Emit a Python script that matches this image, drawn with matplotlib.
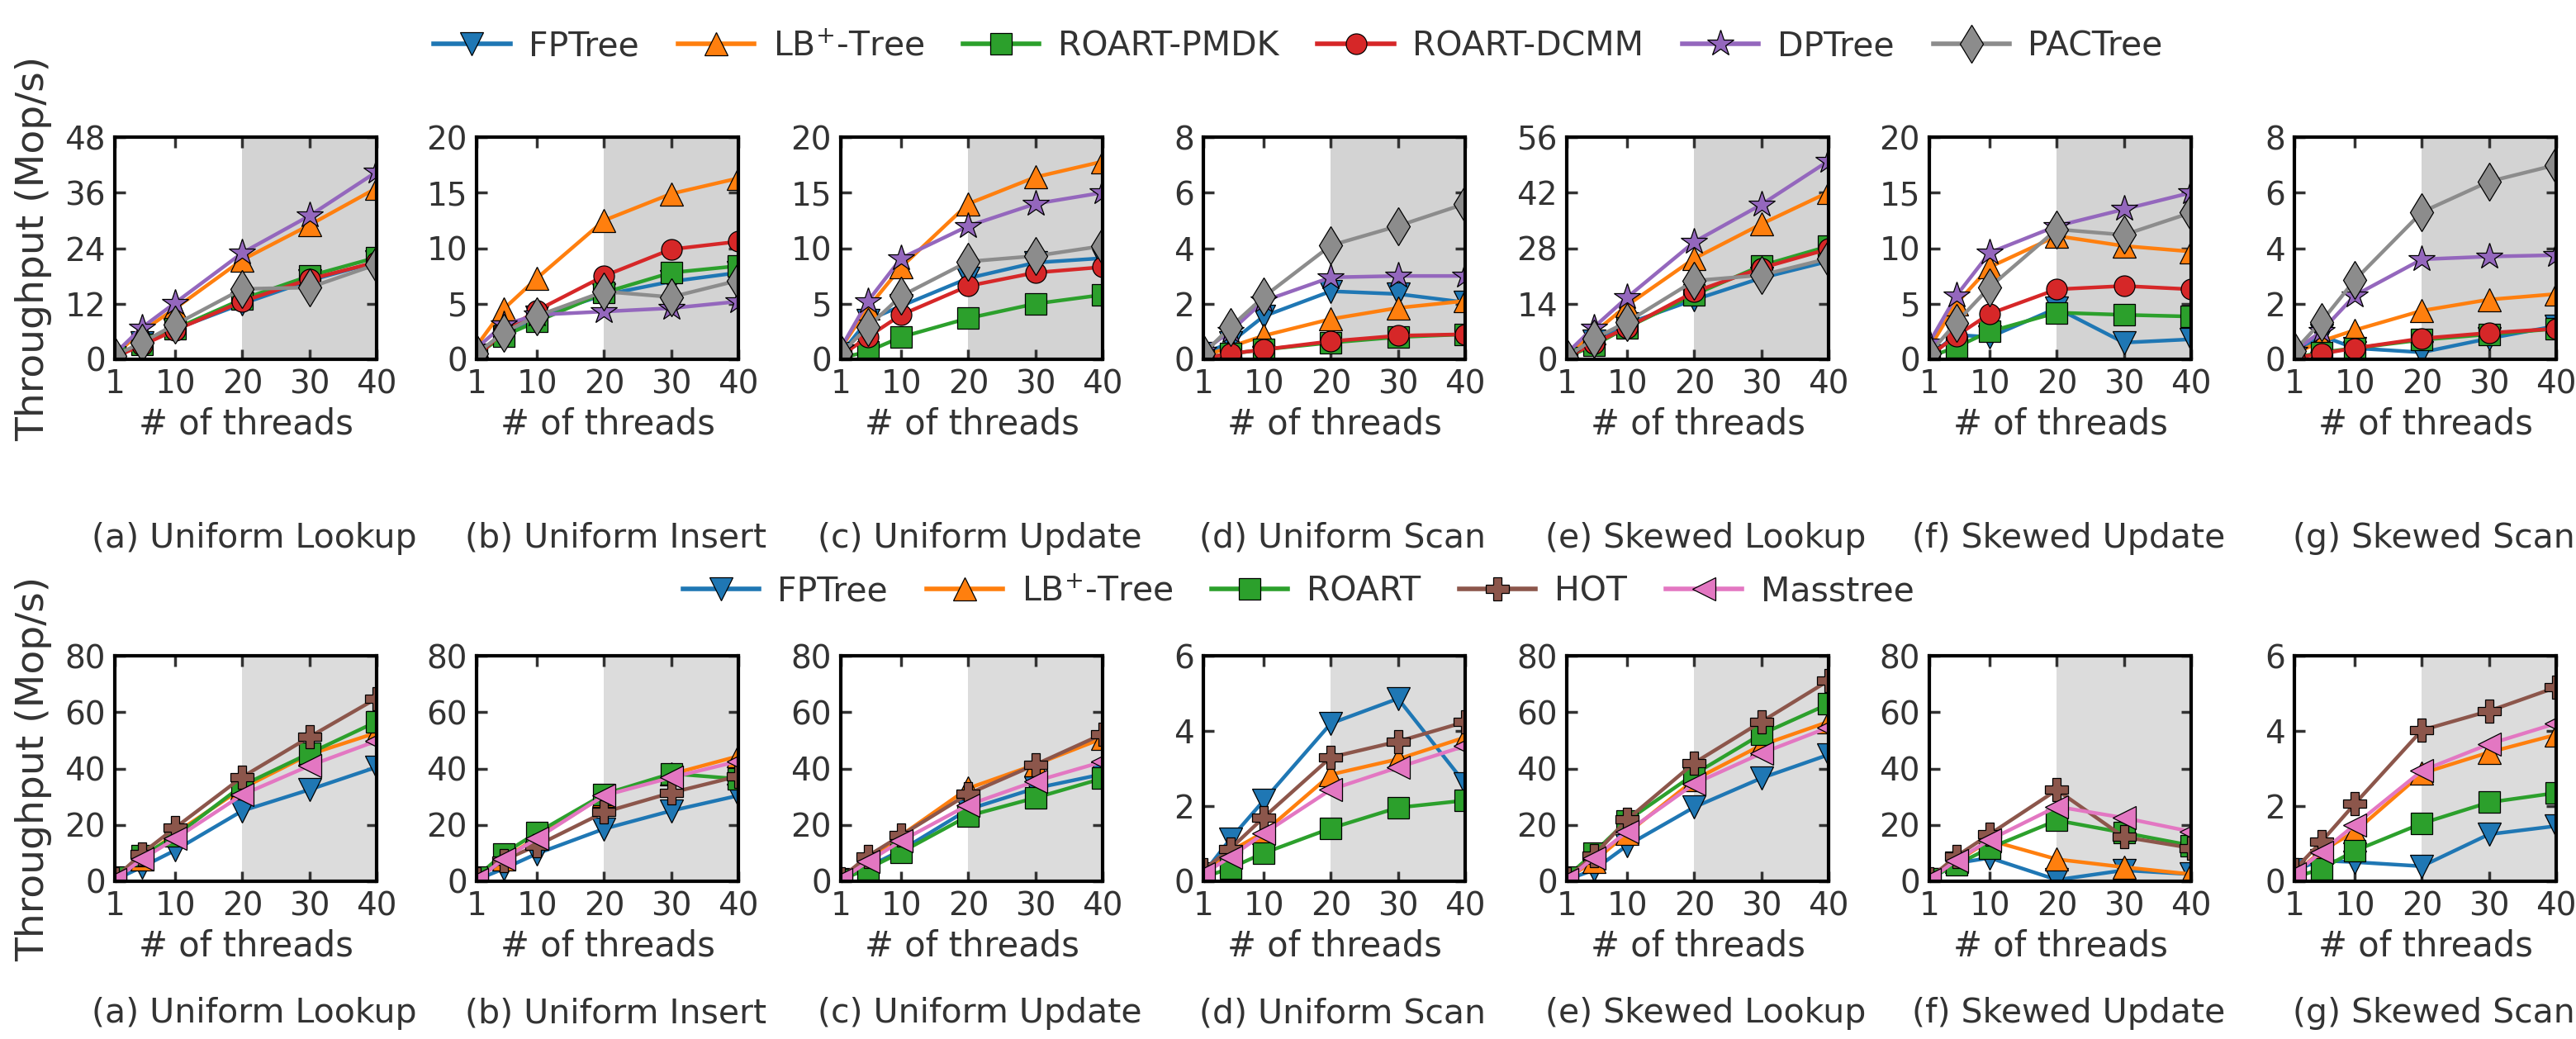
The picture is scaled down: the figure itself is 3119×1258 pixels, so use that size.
import matplotlib
matplotlib.use("Agg")
import matplotlib.pyplot as plt
from matplotlib.lines import Line2D

plt.rcParams['font.family'] = ['DejaVu Sans']
plt.rcParams['mathtext.fontset'] = 'dejavusans'
TXT = '#333333'

threads = [1, 5, 10, 20, 30, 40]
panel_titles = ["(a) Uniform Lookup", "(b) Uniform Insert", "(c) Uniform Update",
                "(d) Uniform Scan", "(e) Skewed Lookup", "(f) Skewed Update",
                "(g) Skewed Scan"]

# ---- top row (persistent indexes) ----
top_names = ["FPTree", "LB$^{+}$-Tree", "ROART-PMDK", "ROART-DCMM", "DPTree", "PACTree"]
top_colors = ["#1f77b4", "#ff7f0e", "#2ca02c", "#d62728", "#9467bd", "#8c8c8c"]
top_markers = ["v", "^", "s", "o", "*", "d"]
top_ylims = [48, 20, 20, 8, 56, 20, 8]
top_ysteps = [12, 5, 5, 2, 14, 5, 2]

fptree_top = [
    [0.5, 3.5, 6.5, 12.0, 17.0, 21.0],
    [0.4, 2.3, 3.8, 5.8, 7.0, 7.8],
    [0.5, 3.5, 4.8, 7.3, 8.7, 9.1],
    [0.2, 0.6, 1.55, 2.45, 2.35, 2.05],
    [0.5, 4.5, 9.0, 15.0, 20.5, 24.7],
    [0.3, 2.2, 2.0, 4.6, 1.5, 1.8],
    [0.2, 0.85, 0.4, 0.25, 0.75, 1.2],
]
lbtree_top = [
    [1.0, 6.0, 11.0, 21.5, 29.0, 37.0],
    [1.2, 4.5, 7.3, 12.5, 14.9, 16.3],
    [1.0, 4.6, 8.3, 14.0, 16.4, 17.8],
    [0.1, 0.45, 0.85, 1.45, 1.85, 2.1],
    [1.0, 6.6, 13.6, 25.4, 34.1, 42.1],
    [1.0, 5.0, 8.3, 11.1, 10.2, 9.7],
    [0.2, 0.65, 1.05, 1.75, 2.15, 2.35],
]
roart_pmdk_top = [
    [0.5, 3.3, 6.6, 13.0, 18.0, 22.0],
    [0.4, 2.1, 3.4, 6.0, 7.8, 8.4],
    [0.1, 0.7, 2.0, 3.7, 5.0, 5.8],
    [0.05, 0.2, 0.35, 0.6, 0.8, 0.9],
    [0.5, 3.5, 8.0, 16.3, 23.6, 28.5],
    [0.2, 1.1, 2.5, 4.2, 4.0, 3.85],
    [0.05, 0.25, 0.4, 0.7, 0.9, 1.1],
]
roart_dcmm_top = [
    [0.5, 3.0, 6.3, 12.5, 17.3, 21.0],
    [0.2, 2.5, 4.4, 7.5, 9.9, 10.6],
    [0.3, 2.0, 4.0, 6.6, 7.8, 8.3],
    [0.05, 0.2, 0.35, 0.65, 0.85, 0.9],
    [0.5, 4.0, 8.0, 17.0, 23.0, 27.8],
    [0.3, 2.1, 4.1, 6.3, 6.6, 6.3],
    [0.05, 0.2, 0.4, 0.75, 0.95, 1.1],
]
dptree_top = [
    [1.2, 6.8, 12.2, 23.0, 31.0, 40.5],
    [1.0, 3.1, 4.0, 4.3, 4.6, 5.2],
    [1.0, 5.2, 9.1, 12.0, 14.0, 15.0],
    [0.3, 1.0, 2.1, 2.95, 3.0, 3.0],
    [1.5, 8.0, 15.6, 29.6, 39.0, 50.0],
    [1.5, 5.7, 9.6, 12.0, 13.5, 15.0],
    [0.3, 1.0, 2.3, 3.6, 3.7, 3.75],
]
pactree_top = [
    [0.8, 3.6, 7.5, 15.2, 15.5, 20.5],
    [0.5, 2.4, 3.9, 6.1, 5.6, 7.1],
    [0.5, 2.9, 5.7, 8.8, 9.3, 10.2],
    [0.2, 1.15, 2.25, 4.1, 4.8, 5.6],
    [0.5, 5.2, 9.4, 19.8, 21.2, 25.4],
    [0.5, 3.3, 6.5, 11.7, 11.2, 13.2],
    [0.3, 1.35, 2.85, 5.3, 6.4, 7.0],
]
top_series = [fptree_top, lbtree_top, roart_pmdk_top, roart_dcmm_top, dptree_top, pactree_top]

# ---- bottom row (DRAM indexes) ----
bot_names = ["FPTree", "LB$^{+}$-Tree", "ROART", "HOT", "Masstree"]
bot_colors = ["#1f77b4", "#ff7f0e", "#2ca02c", "#8c564b", "#e377c2"]
bot_markers = ["v", "^", "s", "P", "<"]
bot_ylims = [80, 80, 80, 6, 80, 80, 6]
bot_ysteps = [20, 20, 20, 2, 20, 20, 2]

fptree_bot = [
    [0.5, 5.0, 11.0, 25.0, 32.5, 40.5],
    [0.5, 4.4, 9.8, 18.6, 25.0, 30.4],
    [0.5, 5.0, 11.0, 25.5, 33.0, 38.0],
    [0.2, 1.12, 2.15, 4.2, 4.86, 2.6],
    [0.5, 4.0, 12.7, 26.3, 36.6, 44.9],
    [0.5, 6.4, 8.3, 0.5, 3.9, 2.5],
    [0.3, 0.55, 0.51, 0.4, 1.25, 1.47],
]
lbtree_bot = [
    [1.0, 8.0, 17.0, 33.0, 45.0, 52.7],
    [1.0, 8.0, 15.5, 30.5, 38.0, 44.4],
    [1.0, 7.5, 16.3, 33.0, 41.4, 50.7],
    [0.2, 0.8, 1.3, 2.84, 3.25, 3.83],
    [1.0, 7.0, 17.0, 36.0, 48.3, 56.6],
    [0.5, 7.0, 14.5, 7.8, 5.0, 2.5],
    [0.2, 0.8, 1.32, 2.87, 3.43, 3.9],
]
roart_bot = [
    [1.5, 9.0, 16.0, 34.0, 45.4, 56.6],
    [1.5, 9.8, 17.2, 30.9, 38.2, 36.3],
    [0.5, 4.4, 10.3, 23.2, 29.6, 36.5],
    [0.1, 0.35, 0.75, 1.41, 1.96, 2.15],
    [1.5, 10.0, 21.5, 38.0, 52.2, 62.9],
    [1.0, 5.9, 11.8, 21.6, 17.2, 12.7],
    [0.1, 0.33, 0.81, 1.54, 2.1, 2.35],
]
hot_bot = [
    [1.0, 9.8, 19.0, 37.0, 51.2, 64.9],
    [1.0, 7.4, 12.7, 24.5, 31.4, 37.3],
    [1.0, 8.9, 16.3, 31.0, 41.4, 52.2],
    [0.3, 0.86, 1.7, 3.3, 3.72, 4.24],
    [1.0, 9.0, 21.9, 42.0, 56.6, 71.2],
    [1.0, 8.8, 16.7, 32.4, 15.7, 11.8],
    [0.3, 1.05, 2.06, 4.02, 4.53, 5.16],
]
masstree_bot = [
    [0.5, 7.8, 15.1, 30.7, 41.0, 49.8],
    [0.5, 7.8, 15.2, 30.4, 36.8, 42.6],
    [0.5, 6.9, 14.3, 27.1, 35.5, 42.4],
    [0.2, 0.64, 1.27, 2.44, 3.03, 3.6],
    [0.5, 8.3, 17.6, 34.6, 45.4, 54.6],
    [0.5, 7.4, 14.7, 26.5, 22.5, 17.6],
    [0.2, 0.77, 1.5, 2.94, 3.65, 4.2],
]
bot_series = [fptree_bot, lbtree_bot, roart_bot, hot_bot, masstree_bot]

# ---------------- figure ----------------
W, H = 3119, 1258
fig = plt.figure(figsize=(W / 100, H / 100), dpi=100)

lefts = [139, 577, 1018, 1457, 1897, 2336, 2778]
axw = 317
rows = [
    dict(top=166, bottom=435, names=top_names, colors=top_colors, markers=top_markers,
         series=top_series, ylims=top_ylims, steps=top_ysteps, shade='#d3d3d3',
         sub_y=652, xl_y=513),
    dict(top=794, bottom=1067, names=bot_names, colors=bot_colors, markers=bot_markers,
         series=bot_series, ylims=bot_ylims, steps=bot_ysteps, shade='#dcdcdc',
         sub_y=1227, xl_y=1145),
]

MS = {'v': 20, '^': 20, 's': 19, 'o': 18, '*': 24, 'd': 23, 'P': 20, '<': 20}

for r in rows:
    h = r['bottom'] - r['top']
    for i in range(7):
        ax = fig.add_axes([lefts[i] / W, 1 - r['bottom'] / H, axw / W, h / H])
        ax.axvspan(20, 40, color=r['shade'], zorder=0, lw=0)
        for k, ser in enumerate(r['series']):
            m = r['markers'][k]
            ax.plot(threads, ser[i], color=r['colors'][k], lw=3.2, marker=m,
                    ms=MS[m], markerfacecolor=r['colors'][k],
                    markeredgecolor='black', markeredgewidth=0.9, zorder=3 + k)
        ax.set_xlim(1, 40)
        ax.set_ylim(0, r['ylims'][i])
        ax.set_xticks([1, 10, 20, 30, 40])
        ax.set_yticks(list(range(0, r['ylims'][i] + 1, r['steps'][i])))
        ax.tick_params(direction='in', length=9, width=2.5, color='#333333',
                       top=True, right=True, labelsize=28, labelcolor=TXT, pad=8)
        for sp in ax.spines.values():
            sp.set_linewidth(3)
            sp.set_color('black')
            sp.set_zorder(20)
        ax.set_xlabel("# of threads", fontsize=30, color=TXT)
        ax.xaxis.set_label_coords(0.5, (r['bottom'] - r['xl_y']) / h)
        ax.xaxis.label.set_va('center')
        ax.text(0.5 + 10 / axw, (r['bottom'] - r['sub_y']) / h, panel_titles[i],
                transform=ax.transAxes, ha='center', va='center',
                fontsize=29.5, color=TXT)
    fig.text(41 / W, 1 - (r['top'] + r['bottom']) / 2 / H, "Throughput (Mop/s)",
             rotation=90, ha='center', va='center', fontsize=34, color=TXT)

def legend_for(names, colors, markers, cy):
    handles = [Line2D([0], [0], color=c, lw=4, marker=m, ms=MS[m], markerfacecolor=c,
                      markeredgecolor='black', markeredgewidth=0.9)
               for n, c, m in zip(names, colors, markers)]
    fig.legend(handles, names, loc='center', bbox_to_anchor=(0.504, 1 - cy / H),
               ncol=len(names), frameon=False, fontsize=29.5, labelcolor=TXT,
               handlelength=2.25, handletextpad=0.55, columnspacing=1.15,
               borderaxespad=0, borderpad=0)

legend_for(top_names, top_colors, top_markers, 56)
legend_for(bot_names, bot_colors, bot_markers, 716)

fig.savefig("out.png", dpi=100)
